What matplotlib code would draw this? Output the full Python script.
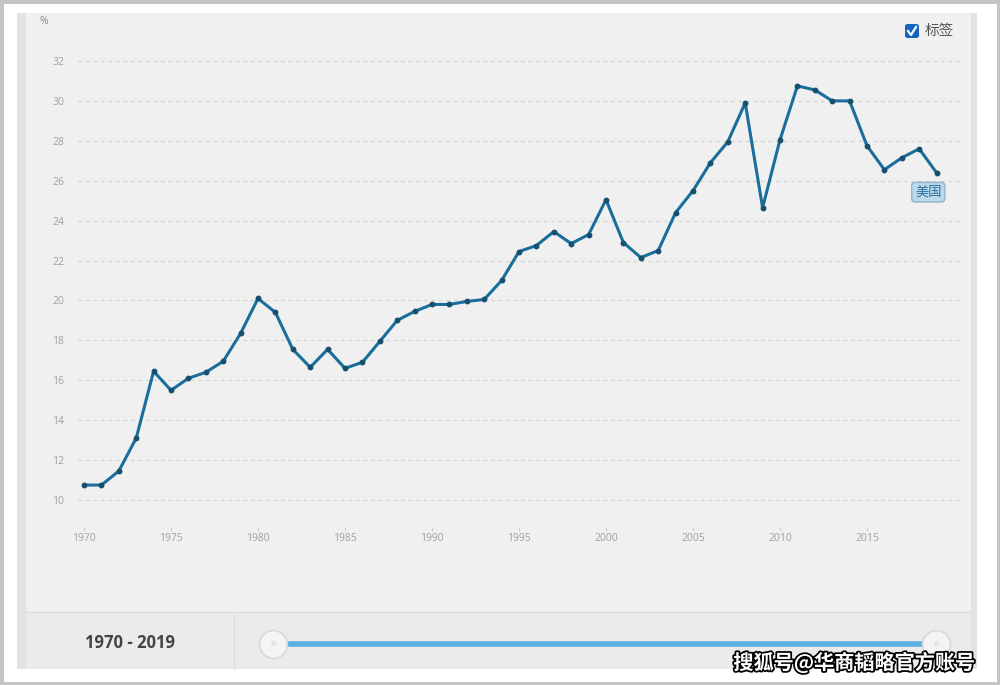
import matplotlib
matplotlib.use("Agg")
import matplotlib.pyplot as plt
from matplotlib.patches import Rectangle, FancyBboxPatch
import matplotlib.patheffects as pe

plt.rcParams['font.family'] = ['Open Sans', 'Noto Sans CJK SC', 'DejaVu Sans']

years = list(range(1970, 2020))
values = [10.75, 10.75, 11.45, 13.1, 16.45, 15.5, 16.1, 16.4, 16.95, 18.35,
          20.1, 19.4, 17.55, 16.65, 17.55, 16.6, 16.9, 17.95, 19.0, 19.45,
          19.8, 19.8, 19.95, 20.05, 21.0, 22.45, 22.75, 23.45, 22.85, 23.3,
          25.05, 22.9, 22.15, 22.5, 24.4, 25.5, 26.9, 27.95, 29.9, 24.65,
          28.05, 30.75, 30.55, 30.0, 30.0, 27.75, 26.55, 27.15, 27.6, 26.4]
y_ticks = [10, 12, 14, 16, 18, 20, 22, 24, 26, 28, 30, 32]
x_ticks = [1970, 1975, 1980, 1985, 1990, 1995, 2000, 2005, 2010, 2015]
series_name = "美国"
range_label = "1970 - 2019"
watermark = "搜狐号@华商韬略官方账号"

W, H = 1000, 685
fig = plt.figure(figsize=(10, 6.85), dpi=100)
fig.patch.set_facecolor("white")


def px(x, y, w, h):
    # pixel box (top-left origin) -> figure fraction
    return (x / W, 1 - (y + h) / H, w / W, h / H)


def rect(x, y, w, h, **kw):
    l, b, ww, hh = px(x, y, w, h)
    fig.patches.append(Rectangle((l, b), ww, hh, transform=fig.transFigure,
                                 zorder=0, **kw))


# outer frame
rect(0, 0, W, H, facecolor="none", edgecolor="#c4c4c4", linewidth=5)
# panel
rect(17, 13, 958, 656, facecolor="#f0f0f0", edgecolor="none")
rect(17, 13, 9, 656, facecolor="#e3e3e3", edgecolor="none")
rect(971, 13, 6, 656, facecolor="#e2e2e2", edgecolor="none")
# slider area
rect(26, 612, 945, 57, facecolor="#ebebeb", edgecolor="none")
fig.add_artist(plt.Line2D([26 / W, 971 / W], [1 - 612 / H] * 2, color="#dddddd", lw=1))
fig.add_artist(plt.Line2D([234 / W] * 2, [1 - 612 / H, 1 - 669 / H], color="#dddddd", lw=1))
fig.text(130 / W, 1 - 643 / H, range_label, ha="center", va="center",
         fontsize=12, fontweight="bold", color="#444444")
fig.add_artist(plt.Line2D([273 / W, 936 / W], [1 - 644 / H] * 2, color="#5aafe0",
                          lw=4, solid_capstyle="butt", zorder=1))
fig.add_artist(plt.Line2D([273 / W, 936 / W], [1 - 644 / H] * 2, lw=0, marker="o",
                          markersize=20, markerfacecolor="#f4f4f4",
                          markeredgecolor="#d8d8d8", markeredgewidth=1.2, zorder=2))
for hx in (273, 936):
    fig.text(hx / W, 1 - 644 / H, "III", ha="center", va="center", fontsize=5.5,
             color="#cccccc", zorder=3)

# main axes
ax = fig.add_axes(px(78, 50, 884, 460))
ax.set_zorder(2)
ax.set_facecolor("none")
ax.set_xlim(1969.655, 2020.46)
ax.set_ylim(9.5, 32.55)
for s in ax.spines.values():
    s.set_visible(False)
ax.spines['bottom'].set_position(('outward', 12))
ax.set_yticks(y_ticks)
ax.set_xticks(x_ticks)
ax.grid(axis="y", color="#d4d4d4", linestyle=(0, (3, 3)), linewidth=0.9)
ax.tick_params(axis="y", length=0, pad=10, labelsize=7.5, labelcolor="#a0a0a0")
ax.tick_params(axis="x", length=3, width=0.8, color="#cccccc", pad=1.5,
               labelsize=7.5, labelcolor="#a0a0a0")
ax.plot(years, values, color="#1a6e9c", lw=2.2, marker="o", markersize=3.2,
        markerfacecolor="#17506f", markeredgecolor="#17506f", zorder=3)

ax.annotate(series_name, (years[-1], values[-1]), xytext=(-6, -14),
            textcoords="offset points", ha="center", va="center", fontsize=9.5,
            color="#2a6f9a", family=["Noto Sans CJK SC", "DejaVu Sans"],
            bbox=dict(boxstyle="round,pad=0.25", facecolor="#bcd8ea",
                      edgecolor="#8fb5d0", lw=1))

fig.text(44 / W, 1 - 22 / H, "%", ha="center", va="center", fontsize=7.5, color="#888888")

# checkbox legend
fig.patches.append(FancyBboxPatch(px(905, 24, 14, 14)[:2], 14 / W, 14 / H,
                                  boxstyle="round,pad=0,rounding_size=0.003",
                                  transform=fig.transFigure, facecolor="#1565c0",
                                  edgecolor="none"))
fig.add_artist(plt.Line2D([908 / W, 911 / W, 916 / W], [1 - 31 / H, 1 - 35 / H, 1 - 27 / H],
                          color="white", lw=1.6))
fig.text(925 / W, 1 - 31 / H, "标签", ha="left", va="center", fontsize=10.5,
         color="#555555", family=["Noto Sans CJK SC", "DejaVu Sans"])

# watermark
fig.text(975 / W, 1 - 663 / H, watermark, ha="right", va="center", fontsize=14.5,
         color="white", fontweight="bold", family=["Noto Sans CJK SC", "DejaVu Sans"],
         path_effects=[pe.withStroke(linewidth=2.5, foreground="black")], zorder=5)

fig.savefig("out.png", dpi=100, facecolor="white")
